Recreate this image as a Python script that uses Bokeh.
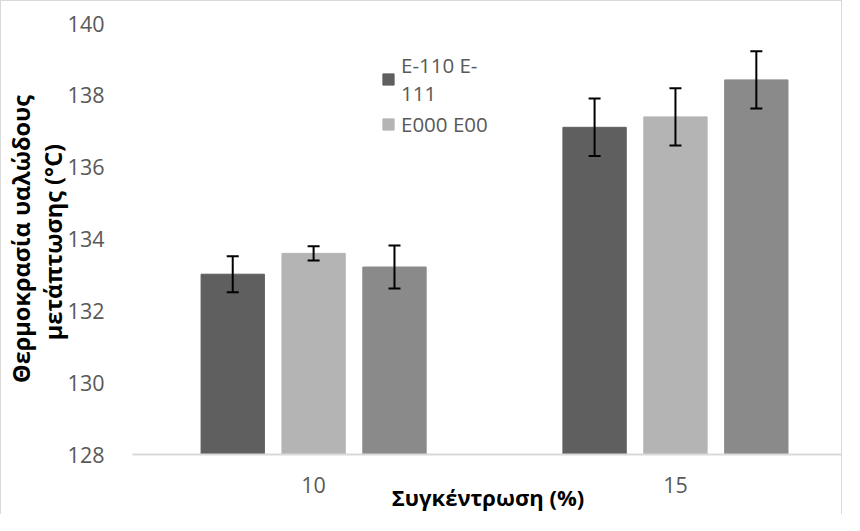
from bokeh.plotting import figure
from bokeh.models import ColumnDataSource, Whisker, Legend, LegendItem, FixedTicker, TeeHead, Range1d
from bokeh.transform import dodge
from bokeh.embed import file_html
from bokeh.resources import INLINE

categories = ["10", "15"]
series_names = ["E-110 E-\n111", "E000 E00", "E-3"]
series_colors = ["#5f5f5f", "#b4b4b4", "#8a8a8a"]
values_s1 = [133.02, 137.11]
values_s2 = [133.60, 137.40]
values_s3 = [133.22, 138.43]
errors_s1 = [0.50, 0.80]
errors_s2 = [0.20, 0.80]
errors_s3 = [0.60, 0.80]
y_ticks = [128, 130, 132, 134, 136, 138, 140]
x_title = "Συγκέντρωση (%)"
y_title = "Θερμοκρασία υαλώδους\nμετάπτωσης  (°C)"

FONT = "Open Sans"
xpos = list(range(len(categories)))

p = figure(width=842, height=514, output_backend="svg", toolbar_location=None,
           x_range=Range1d(-0.5005, 1.4644), y_range=Range1d(128, 140),
           min_border_left=127, min_border_top=22, min_border_bottom=61, min_border_right=0)
p.styles = {"border-top": "1px solid #d9d9d9", "border-left": "1px solid #d9d9d9",
            "border-right": "1px solid #d9d9d9"}
p.outline_line_color = None
p.xgrid.visible = False
p.ygrid.visible = False

offsets = [-0.2235, 0.0, 0.2235]
width = 0.175
renderers = []
for vals, errs, col, off in zip([values_s1, values_s2, values_s3], [errors_s1, errors_s2, errors_s3], series_colors, offsets):
    src = ColumnDataSource(dict(x=xpos, top=vals,
                                upper=[v + e for v, e in zip(vals, errs)],
                                lower=[v - e for v, e in zip(vals, errs)]))
    r = p.vbar(x=dodge("x", off), top="top", bottom=128, width=width, source=src,
               fill_color=col, line_color=col, line_width=1)
    renderers.append(r)
    w = Whisker(base=dodge("x", off), upper="upper", lower="lower", source=src,
                line_color="black", line_width=2, level="overlay",
                upper_head=TeeHead(size=12, line_color="black", line_width=2),
                lower_head=TeeHead(size=12, line_color="black", line_width=2))
    p.add_layout(w)

legend = Legend(items=[LegendItem(label=series_names[0], renderers=[renderers[0]]),
                       LegendItem(label=series_names[1], renderers=[renderers[1]])],
                location=(249, 316))
legend.border_line_color = None
legend.background_fill_alpha = 0
legend.label_text_font = FONT
legend.label_text_font_size = "20.5px"
legend.label_text_color = "#595959"
legend.glyph_width = 14
legend.glyph_height = 14
legend.label_standoff = 6
legend.spacing = 3
legend.padding = 4
legend.label_text_line_height = 1.37
p.add_layout(legend)

# x axis
p.xaxis.ticker = FixedTicker(ticks=xpos)
p.xaxis.major_label_overrides = {i: c for i, c in zip(xpos, categories)}
p.xaxis.axis_line_color = "#d9d9d9"
p.xaxis.axis_line_width = 2
p.xaxis.major_tick_line_color = None
p.xaxis.minor_tick_line_color = None
p.xaxis.major_label_text_font = FONT
p.xaxis.major_label_text_font_size = "21.5px"
p.xaxis.major_label_text_color = "#595959"
p.xaxis.major_label_standoff = 16
p.xaxis.axis_label = x_title
p.xaxis.axis_label_text_font = FONT
p.xaxis.axis_label_text_font_size = "22px"
p.xaxis.axis_label_text_font_style = "bold"
p.xaxis.axis_label_text_color = "black"
p.xaxis.axis_label_standoff = -14

# y axis
p.yaxis.ticker = FixedTicker(ticks=y_ticks)
p.yaxis.axis_line_color = None
p.yaxis.major_tick_line_color = None
p.yaxis.minor_tick_line_color = None
p.yaxis.major_label_text_font = FONT
p.yaxis.major_label_text_font_size = "21.5px"
p.yaxis.major_label_text_color = "#595959"
p.yaxis.major_label_standoff = 22
p.yaxis.axis_label = y_title
p.yaxis.axis_label_text_font = FONT
p.yaxis.axis_label_text_font_size = "23.5px"
p.yaxis.axis_label_text_font_style = "bold"
p.yaxis.axis_label_text_color = "black"
p.yaxis.axis_label_text_line_height = 1.0
p.yaxis.axis_label_standoff = -4

open("out.html", "w").write(file_html(p, INLINE))
